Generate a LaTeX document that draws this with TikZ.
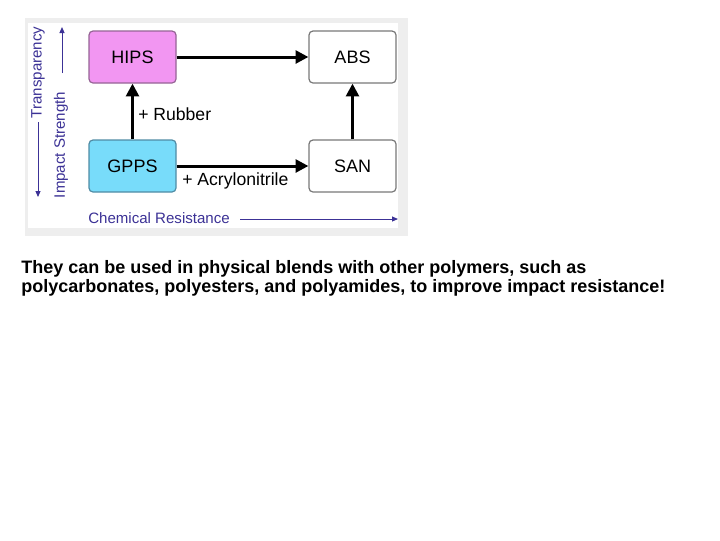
\documentclass[tikz,border=0pt]{standalone}
\usepackage{fontspec}
\setmainfont{Liberation Sans}
\usetikzlibrary{arrows.meta}
\definecolor{axisblue}{RGB}{60,50,150}
\definecolor{hipsfill}{RGB}{242,150,242}
\definecolor{hipsdraw}{RGB}{150,100,150}
\definecolor{gppsfill}{RGB}{120,220,250}
\definecolor{gppsdraw}{RGB}{80,140,165}
\definecolor{boxdraw}{RGB}{120,120,120}
\definecolor{framegray}{RGB}{238,238,238}
\begin{document}
\begin{tikzpicture}[x=0.75pt,y=-0.75pt,
 polybox/.style={draw=boxdraw, fill=white, line width=0.9pt, rounded corners=3pt,
   minimum width=65.25pt, minimum height=39pt, inner sep=0pt,
   font=\fontsize{13.5}{16}\selectfont},
 flow/.style={line width=2.25pt, -{Triangle[length=9.5pt,width=9.5pt]}},
 axis/.style={draw=axisblue, line width=0.75pt, -{Triangle[length=4.5pt,width=3.75pt]}},
 axislabel/.style={text=axisblue, inner sep=0pt, font=\fontsize{11.3}{13}\selectfont},
 steplabel/.style={inner sep=0pt, anchor=west, font=\fontsize{13.2}{16}\selectfont},
 bodytext/.style={inner sep=0pt, anchor=base west, font=\bfseries\fontsize{13.5}{16}\selectfont}]
\useasboundingbox (0,0) rectangle (720,540);
\fill[framegray] (25,18) rectangle (408,236);
\fill[white] (28,23) rectangle (398,228);

\node[polybox, fill=hipsfill, draw=hipsdraw] (hips) at (132.5,57) {HIPS};
\node[polybox] (abs) at (352.5,57) {ABS};
\node[polybox, fill=gppsfill, draw=gppsdraw] (gpps) at (132.5,166) {GPPS};
\node[polybox] (san) at (352.5,166) {SAN};

\draw[flow] (hips) -- (abs);
\draw[flow] (gpps) -- (san);
\draw[flow] (gpps) -- (hips);
\draw[flow] (san) -- (abs);

\node[steplabel] (rubber) at (138,114.5) {+ Rubber};
\node[steplabel] (acryl) at (182,181) {+ Acrylonitrile};

\node[axislabel, rotate=90] (transp) at (38,72.5) {Transparency};
\coordinate (tpa) at (38,122);
\coordinate (tpb) at (38,197);
\draw[axis] (tpa) -- (tpb);

\node[axislabel, rotate=90] (impact) at (61,145) {Impact Strength};
\coordinate (ima) at (62,73);
\coordinate (imb) at (62,27);
\draw[axis] (ima) -- (imb);

\node[axislabel, anchor=west] (chem) at (88,218.5) {Chemical Resistance};
\coordinate (cha) at (240,219);
\coordinate (chb) at (398,219);
\draw[axis] (cha) -- (chb);

\node[bodytext] (line1) at (21,273) {They can be used in physical blends with other polymers, such as};
\node[bodytext] (line2) at (21,292.5) {polycarbonates, polyesters, and polyamides, to improve impact resistance!};
\end{tikzpicture}
\end{document}
